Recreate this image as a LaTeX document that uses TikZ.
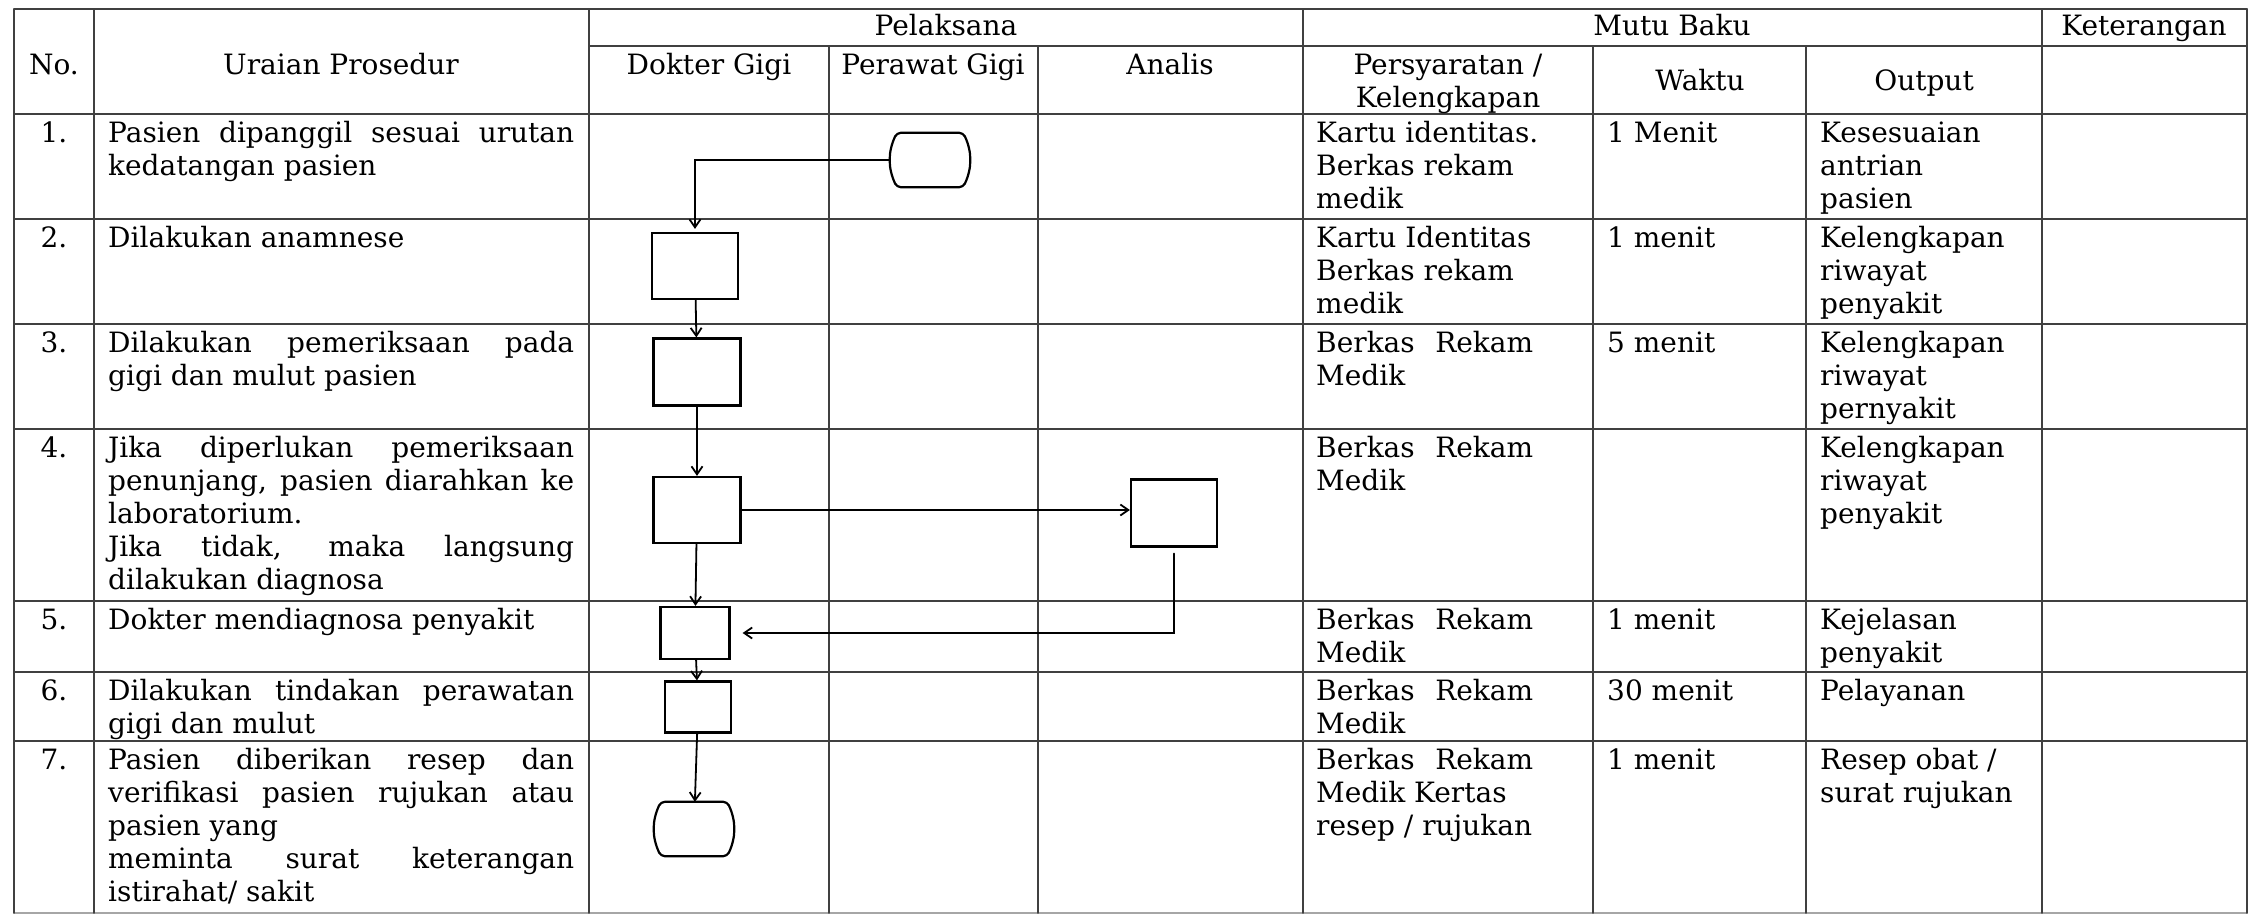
\documentclass[tikz,border=0pt]{standalone}
\usepackage{fontspec}
\setmainfont{DejaVu Serif}
\usepackage{tikz}
\usetikzlibrary{arrows.meta}
\newcommand{\cellfont}{\fontsize{28}{33}\selectfont}
\newcommand{\jl}[1]{\makebox[466pt][s]{#1}}
\newcommand{\brk}{\makebox[217pt][s]{Berkas Rekam}}
% terminal outline with bulging sides round a named node
\newcommand{\Terminal}[1]{
	\draw[line width=2.2pt, rounded corners=4pt] (#1.north west) to[bend right=25] (#1.south west)
		-- (#1.south east) to[bend right=25] (#1.north east) -- cycle;
}

\begin{document}
\begin{tikzpicture}[x=1pt, y=-1pt, line cap=round,
	grid/.style={line width=1.5pt, draw=black!75},
	txt/.style={inner sep=0pt, anchor=north west, align=left, font=\cellfont},
	head/.style={txt, anchor=north, align=center},
	box/.style={draw, line width=2.2pt, inner sep=0pt},
	term/.style={inner sep=0pt},
	arr/.style={line width=1.8pt, -{Straight Barb[length=8pt, width=11pt, line width=1.8pt]}}]

	\useasboundingbox (0,0) rectangle (2266,915);

	% table
	\draw[grid] (14,9) -- (2247,9);
	\draw[grid] (589,46) -- (2247,46);
	\foreach \y in {114,219,324,429,601,672,741}
		\draw[grid] (14,\y) -- (2247,\y);
	\draw[grid, draw=black!35] (14,913) -- (2247,913);
	\foreach \x in {14,94,589,1303,2042,2247}
		\draw[grid] (\x,9) -- (\x,913);
	\foreach \x in {829,1038,1593,1806}
		\draw[grid] (\x,46) -- (\x,913);

	% header
	\node[head] (hno) at (54,51) {\strut No.};
	\node[head] (hur) at (341,51) {\strut Uraian Prosedur};
	\node[head] (hpl) at (946,12) {\strut Pelaksana};
	\node[head] (hmb) at (1672,12) {\strut Mutu Baku};
	\node[head] (hket) at (2144,12) {\strut Keterangan};
	\node[head] (hdg) at (709,51) {\strut Dokter Gigi};
	\node[head] (hpg) at (933,51) {\strut Perawat Gigi};
	\node[head] (han) at (1170,51) {\strut Analis};
	\node[head] (hsy) at (1448,51) {\strut Persyaratan /\\Kelengkapan};
	\node[head] (hwk) at (1700,67) {\strut Waktu};
	\node[head] (hout) at (1924,67) {\strut Output};

	% rows
	\node[head] (n1) at (54,119) {\strut 1.};
	\node[txt] (u1) at (108,119) {\strut\jl{Pasien dipanggil sesuai urutan}\\kedatangan pasien};
	\node[txt] (s1) at (1316,119) {\strut Kartu identitas.\\Berkas rekam\\medik};
	\node[txt] (w1) at (1607,119) {\strut 1 Menit};
	\node[txt] (o1) at (1820,119) {\strut Kesesuaian\\antrian\\pasien};

	\node[head] (n2) at (54,224) {\strut 2.};
	\node[txt] (u2) at (108,224) {\strut Dilakukan anamnese};
	\node[txt] (s2) at (1316,224) {\strut Kartu Identitas\\Berkas rekam\\medik};
	\node[txt] (w2) at (1607,224) {\strut 1 menit};
	\node[txt] (o2) at (1820,224) {\strut Kelengkapan\\riwayat\\penyakit};

	\node[head] (n3) at (54,329) {\strut 3.};
	\node[txt] (u3) at (108,329) {\strut\jl{Dilakukan pemeriksaan pada}\\gigi dan mulut pasien};
	\node[txt] (s3) at (1316,329) {\strut\brk\\Medik};
	\node[txt] (w3) at (1607,329) {\strut 5 menit};
	\node[txt] (o3) at (1820,329) {\strut Kelengkapan\\riwayat\\pernyakit};

	\node[head] (n4) at (54,434) {\strut 4.};
	\node[txt] (u4) at (108,434) {\strut\jl{Jika diperlukan pemeriksaan}\\\jl{penunjang, pasien diarahkan ke}\\laboratorium.\\\jl{Jika tidak, maka langsung}\\dilakukan diagnosa};
	\node[txt] (s4) at (1316,434) {\strut\brk\\Medik};
	\node[txt] (o4) at (1820,434) {\strut Kelengkapan\\riwayat\\penyakit};

	\node[head] (n5) at (54,606) {\strut 5.};
	\node[txt] (u5) at (108,606) {\strut Dokter mendiagnosa penyakit};
	\node[txt] (s5) at (1316,606) {\strut\brk\\Medik};
	\node[txt] (w5) at (1607,606) {\strut 1 menit};
	\node[txt] (o5) at (1820,606) {\strut Kejelasan\\penyakit};

	\node[head] (n6) at (54,677) {\strut 6.};
	\node[txt] (u6) at (108,677) {\strut\jl{Dilakukan tindakan perawatan}\\gigi dan mulut};
	\node[txt] (s6) at (1316,677) {\strut\brk\\Medik};
	\node[txt] (w6) at (1607,677) {\strut 30 menit};
	\node[txt] (o6) at (1820,677) {\strut Pelayanan};

	\node[head] (n7) at (54,746) {\strut 7.};
	\node[txt] (u7) at (108,746) {\strut\jl{Pasien diberikan resep dan}\\\jl{verifikasi pasien rujukan atau}\\pasien yang\\\jl{meminta surat keterangan}\\istirahat/ sakit};
	\node[txt] (s7) at (1316,746) {\strut\brk\\Medik Kertas\\resep / rujukan};
	\node[txt] (w7) at (1607,746) {\strut 1 menit};
	\node[txt] (o7) at (1820,746) {\strut Resep obat /\\surat rujukan};

	% flow
	\node[term, minimum width=66pt, minimum height=54pt] (start) at (930,160) {};
	\Terminal{start}
	\node[box, minimum width=86pt, minimum height=66pt] (b2) at (695,266) {};
	\node[box, minimum width=87pt, minimum height=67pt] (b3) at (697,372) {};
	\node[box, minimum width=87pt, minimum height=66pt] (b4) at (697,510) {};
	\node[box, minimum width=86pt, minimum height=67pt] (lab) at (1174,513) {};
	\node[box, minimum width=69pt, minimum height=52pt] (b5) at (695,633) {};
	\node[box, minimum width=66pt, minimum height=51pt] (b6) at (698,707) {};
	\node[term, minimum width=66pt, minimum height=54pt] (stop) at (694,829) {};
	\Terminal{stop}

	\draw[arr, shorten >=3pt] ([xshift=-7pt]start.west) -| (b2.north);
	\draw[arr] (b2) -- (b3);
	\draw[arr] (b3) -- (b4);
	\draw[arr] (b4) -- (b4 -| lab.west);
	\draw[arr] (b4) -- (b5);
	\draw[arr, shorten <=6pt, shorten >=12pt] (lab.south) |- (b5.east);
	\draw[arr] (b5) -- (b6);
	\draw[arr] (b6) -- (stop);

\end{tikzpicture}
\end{document}
